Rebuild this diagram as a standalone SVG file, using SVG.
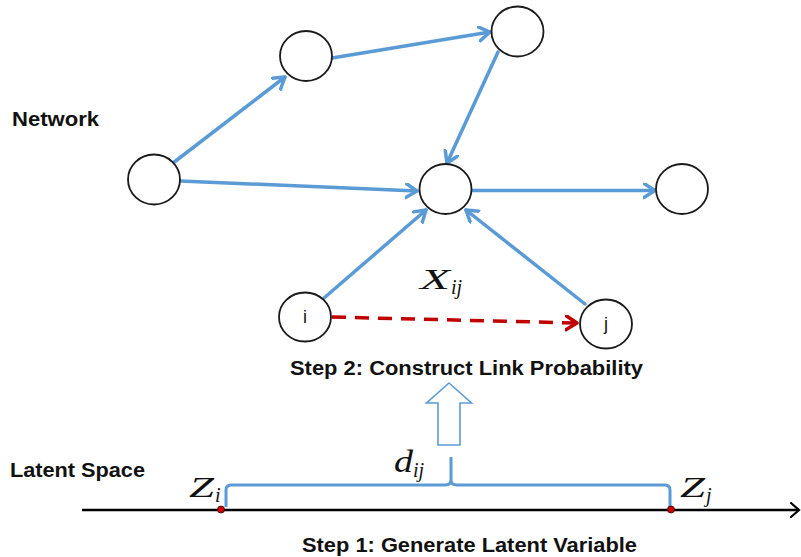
<svg xmlns="http://www.w3.org/2000/svg" width="801" height="557" viewBox="0 0 801 557">
  <style>
    .node { fill: #ffffff; stroke: #1a1a1a; stroke-width: 1.8; }
    .edge { fill: none; stroke: #5b9bd5; stroke-width: 3.5; stroke-linecap: round; }
    .dash { fill: none; stroke: #c00000; stroke-width: 3.5; stroke-dasharray: 14 9; }
    .head { font-family: "Liberation Sans", Arial, sans-serif; font-weight: bold; font-size: 20px; fill: #111111; }
    .lbl { font-family: "Liberation Sans", Arial, sans-serif; font-size: 18px; fill: #111111; text-anchor: middle; }
    .math { font-family: "Liberation Serif", "DejaVu Serif", serif; font-style: italic; fill: #111111; }
  </style>
  <defs>
    <marker id="blueHead" markerUnits="userSpaceOnUse" markerWidth="18" markerHeight="18" refX="12" refY="8" orient="auto">
      <path d="M1,1 L12,8 L1,15" fill="none" stroke="#5b9bd5" stroke-width="3.5" stroke-linecap="round" stroke-linejoin="round"/>
    </marker>
    <marker id="redHead" markerUnits="userSpaceOnUse" markerWidth="18" markerHeight="18" refX="12" refY="8" orient="auto">
      <path d="M1,1 L12,8 L1,15" fill="none" stroke="#c00000" stroke-width="3.5" stroke-linecap="round" stroke-linejoin="round"/>
    </marker>
    <marker id="axisHead" markerUnits="userSpaceOnUse" markerWidth="14" markerHeight="18" refX="9" refY="8" orient="auto">
      <path d="M1,1 L9,8 L1,15" fill="none" stroke="#000000" stroke-width="2.2" stroke-linecap="round"/>
    </marker>
  </defs>

  <rect width="801" height="557" fill="#ffffff"/>

  <!-- section headings -->
  <text class="head" x="12" y="126" textLength="87" lengthAdjust="spacingAndGlyphs">Network</text>
  <text class="head" x="10" y="477" textLength="135" lengthAdjust="spacingAndGlyphs">Latent Space</text>
  <text class="head" x="290" y="375" textLength="353" lengthAdjust="spacingAndGlyphs">Step 2: Construct Link Probability</text>
  <text class="head" x="302" y="552" textLength="335" lengthAdjust="spacingAndGlyphs">Step 1: Generate Latent Variable</text>

  <!-- connectors -->
  <g id="connectors">
    <line class="edge" x1="173" y1="163" x2="285" y2="77" marker-end="url(#blueHead)"/>
    <line class="edge" x1="332" y1="58" x2="490" y2="32" marker-end="url(#blueHead)"/>
    <line class="edge" x1="180" y1="181" x2="417" y2="191" marker-end="url(#blueHead)"/>
    <line class="edge" x1="498" y1="52" x2="447" y2="163" marker-end="url(#blueHead)"/>
    <line class="edge" x1="472" y1="190.5" x2="655" y2="190.5" marker-end="url(#blueHead)"/>
    <line class="edge" x1="324" y1="298" x2="426" y2="210" marker-end="url(#blueHead)"/>
    <line class="edge" x1="585" y1="304" x2="466" y2="210" marker-end="url(#blueHead)"/>
    <line class="dash" x1="332" y1="317" x2="577" y2="323" marker-end="url(#redHead)"/>
  </g>

  <!-- nodes -->
  <g id="node-a"><ellipse class="node" cx="154" cy="179.5" rx="26" ry="25"/></g>
  <g id="node-b"><ellipse class="node" cx="306" cy="56" rx="26" ry="25"/></g>
  <g id="node-c"><ellipse class="node" cx="517.5" cy="31.5" rx="26" ry="25"/></g>
  <g id="node-d"><ellipse class="node" cx="445.5" cy="189" rx="26" ry="25"/></g>
  <g id="node-e"><ellipse class="node" cx="682" cy="189" rx="26" ry="25"/></g>
  <g id="node-i">
    <ellipse class="node" cx="305" cy="317" rx="26" ry="24.5"/>
    <text class="lbl" x="305" y="323">i</text>
  </g>
  <g id="node-j">
    <ellipse class="node" cx="606" cy="324" rx="26" ry="24.5"/>
    <text class="lbl" x="606" y="330">j</text>
  </g>

  <!-- link variable label -->
  <text class="math" x="420" y="289" font-size="30"><tspan textLength="30" lengthAdjust="spacingAndGlyphs">X</tspan><tspan font-size="20" dx="1" dy="5">ij</tspan></text>

  <!-- hollow upward arrow -->
  <polygon points="449,383 471.5,403 460,403 460,445 438,445 438,403 426.5,403" fill="#ffffff" stroke="#5b9bd5" stroke-width="1.6" stroke-linejoin="miter"/>

  <!-- latent axis -->
  <line x1="82" y1="510" x2="799" y2="510" stroke="#000000" stroke-width="2.5" marker-end="url(#axisHead)"/>

  <!-- distance brace -->
  <path d="M226,507 L226,490 Q226,485 231,485 L445,485 Q451,485 451,480 L451,457 M451,480 Q451,485 457,485 L665,485 Q670,485 670,490 L670,507" fill="none" stroke="#5b9bd5" stroke-width="3"/>

  <!-- latent positions -->
  <circle cx="221" cy="509.5" r="3.5" fill="#cc0000" stroke="#330000" stroke-width="0.8"/>
  <circle cx="671" cy="509.5" r="3.5" fill="#cc0000" stroke="#330000" stroke-width="0.8"/>

  <text class="math" x="189" y="497" font-size="30"><tspan textLength="25" lengthAdjust="spacingAndGlyphs">Z</tspan><tspan font-size="20" dx="1" dy="5">i</tspan></text>
  <text class="math" x="680" y="497" font-size="30"><tspan textLength="25" lengthAdjust="spacingAndGlyphs">Z</tspan><tspan font-size="20" dx="1" dy="5">j</tspan></text>
  <text class="math" x="394" y="472" font-size="31"><tspan textLength="19" lengthAdjust="spacingAndGlyphs">d</tspan><tspan font-size="20" dy="5">ij</tspan></text>
</svg>
